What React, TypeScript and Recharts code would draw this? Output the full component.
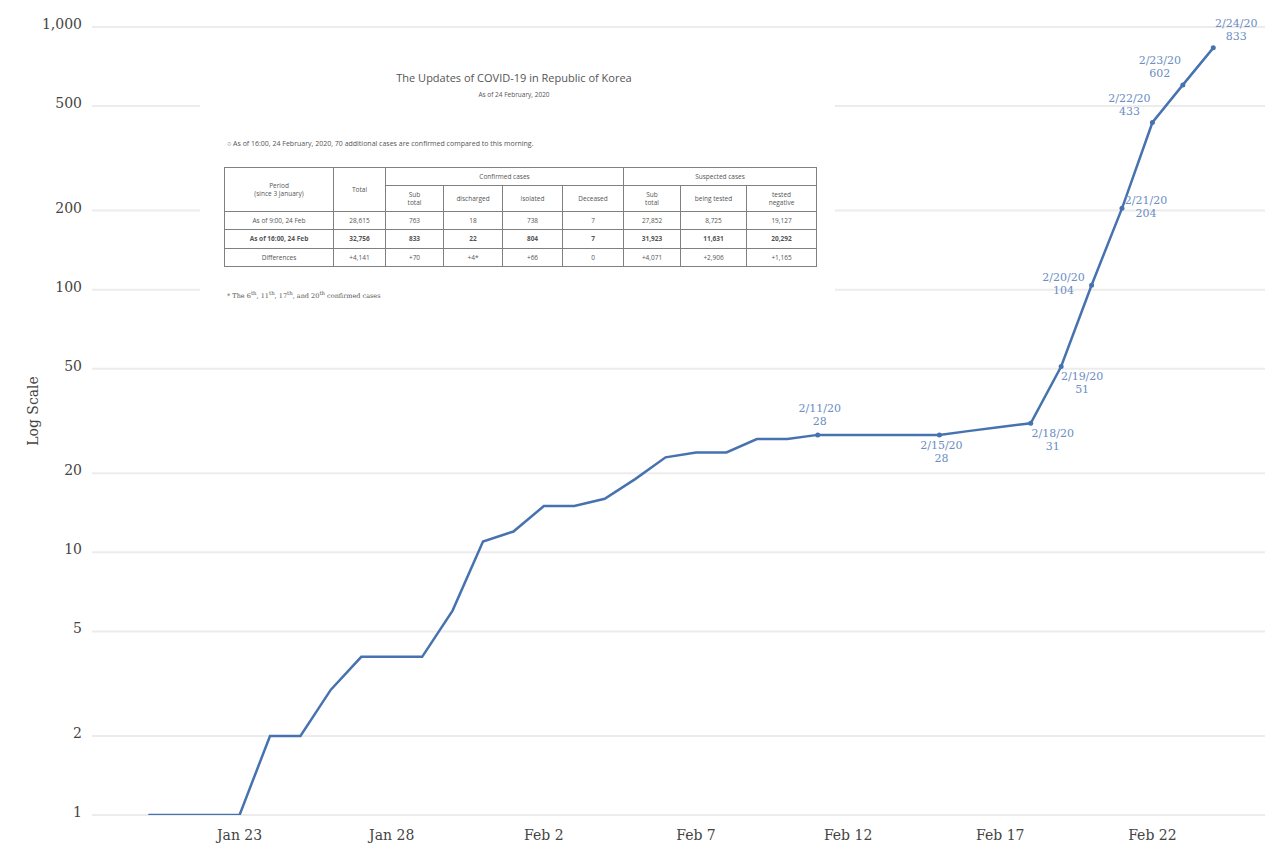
import React from 'react';
import { ComposedChart, Line, XAxis, YAxis, CartesianGrid, LabelList } from 'recharts';

// cumulative confirmed cases, Republic of Korea, one value per day
const days = [
  '1/20/20', '1/21/20', '1/22/20', '1/23/20', '1/24/20', '1/25/20', '1/26/20', '1/27/20',
  '1/28/20', '1/29/20', '1/30/20', '1/31/20', '2/1/20', '2/2/20', '2/3/20', '2/4/20',
  '2/5/20', '2/6/20', '2/7/20', '2/8/20', '2/9/20', '2/10/20', '2/11/20', '2/12/20',
  '2/13/20', '2/14/20', '2/15/20', '2/16/20', '2/17/20', '2/18/20', '2/19/20', '2/20/20',
  '2/21/20', '2/22/20', '2/23/20', '2/24/20',
];
const cases = [
  1, 1, 1, 1, 2, 2, 3, 4,
  4, 4, 6, 11, 12, 15, 15, 16,
  19, 23, 24, 24, 27, 27, 28, 28,
  28, 28, 28, 29, 30, 31, 51, 104,
  204, 433, 602, 833,
];

const xTickDays = ['1/23/20', '1/28/20', '2/2/20', '2/7/20', '2/12/20', '2/17/20', '2/22/20'];
const xTickLabels = ['Jan 23', 'Jan 28', 'Feb 2', 'Feb 7', 'Feb 12', 'Feb 17', 'Feb 22'];
const yTicks = [1, 2, 5, 10, 20, 50, 100, 200, 500, 1000];

const annotatedDays = ['2/11/20', '2/15/20', '2/18/20', '2/19/20', '2/20/20', '2/21/20', '2/22/20', '2/23/20', '2/24/20'];

// embedded report table
const tableTitle = 'The Updates of COVID-19 in Republic of Korea';
const tableSubtitle = 'As of 24 February, 2020';
const tableNote = '○ As of 16:00, 24 February, 2020, 70 additional cases are confirmed compared to this morning.';
const tableRows = [
  ['As of 9:00, 24 Feb', '28,615', '763', '18', '738', '7', '27,852', '8,725', '19,127'],
  ['As of 16:00, 24 Feb', '32,756', '833', '22', '804', '7', '31,923', '11,631', '20,292'],
  ['Differences', '+4,141', '+70', '+4*', '+66', '0', '+4,071', '+2,906', '+1,165'],
];

const data = days.map((d, i) => ({ idx: i, day: d, cases: cases[i] }));
const xTicks = xTickDays.map((d) => days.indexOf(d));

const LINE = '#4673b0';
const LABEL = '#6a8dc2';
const SERIF = '"DejaVu Serif", "Liberation Serif", serif';
const SANS = '"Open Sans", "Noto Sans", sans-serif';

// label placement per annotated day: [dx, dy of first line]
const placement: Record<string, [number, number]> = {
  '2/11/20': [2, -26],
  '2/15/20': [2, 11],
  '2/18/20': [22, 11],
  '2/19/20': [21, 11],
  '2/20/20': [-28, -7],
  '2/21/20': [24, -7],
  '2/22/20': [-23, -23],
  '2/23/20': [-23, -24],
  '2/24/20': [23, -24],
};

const renderDot = (props: any) => {
  const { cx, cy, index } = props;
  if (!annotatedDays.includes(days[index])) return <g key={`d-${index}`} />;
  return <circle key={`d-${index}`} cx={cx} cy={cy} r={2.5} fill={LINE} />;
};

const renderLabel = (props: any) => {
  const { x, y, index } = props;
  const day = days[index];
  if (!annotatedDays.includes(day)) return null;
  const [dx, dy] = placement[day];
  return (
    <g key={`l-${index}`}>
      <text x={x + dx} y={y + dy} textAnchor="middle" dominantBaseline="middle" fontSize={11} fontFamily={SERIF} fill={LABEL}>
        {day}
      </text>
      <text x={x + dx} y={y + dy + 13} textAnchor="middle" dominantBaseline="middle" fontSize={11} fontFamily={SERIF} fill={LABEL}>
        {cases[index]}
      </text>
    </g>
  );
};

const cell: React.CSSProperties = {
  border: '1px solid #808080',
  textAlign: 'center',
  padding: 0,
  lineHeight: '8px',
};

function ReportTable() {
  const colW = [109, 52, 58, 59, 60, 61, 57, 66, 70];
  return (
    <div
      style={{
        position: 'absolute', left: 192, top: 42, width: 635, height: 265,
        background: '#ffffff', fontFamily: SANS, color: '#555',
      }}
    >
      <div style={{ position: 'absolute', left: 0, width: 628, top: 20, textAlign: 'center', fontSize: 11 }}>{tableTitle}</div>
      <div style={{ position: 'absolute', left: 0, width: 628, top: 40, textAlign: 'center', fontSize: 6.5 }}>{tableSubtitle}</div>
      <div style={{ position: 'absolute', left: 27, top: 89, fontSize: 7 }}>{tableNote}</div>
      <table
        style={{
          position: 'absolute', left: 24, top: 117, width: 592, borderCollapse: 'collapse',
          tableLayout: 'fixed', fontSize: 6.5, border: '1.5px solid #707070',
        }}
      >
        <colgroup>
          {colW.map((w, i) => <col key={i} style={{ width: w }} />)}
        </colgroup>
        <tbody>
          <tr style={{ height: 18 }}>
            <td style={cell} rowSpan={2}>Period<br />(since 3 January)</td>
            <td style={cell} rowSpan={2}>Total</td>
            <td style={cell} colSpan={4}>Confirmed cases</td>
            <td style={cell} colSpan={3}>Suspected cases</td>
          </tr>
          <tr style={{ height: 26 }}>
            <td style={cell}>Sub<br />total</td>
            <td style={cell}>discharged</td>
            <td style={cell}>isolated</td>
            <td style={cell}>Deceased</td>
            <td style={cell}>Sub<br />total</td>
            <td style={cell}>being tested</td>
            <td style={cell}>tested<br />negative</td>
          </tr>
          {tableRows.map((row, r) => (
            <tr key={r} style={{ height: r === 1 ? 19 : 18, fontWeight: r === 1 ? 700 : 400 }}>
              {row.map((v, c) => <td key={c} style={cell}>{v}</td>)}
            </tr>
          ))}
        </tbody>
      </table>
      <div style={{ position: 'absolute', left: 27, top: 240, fontSize: 6.5, fontFamily: SERIF }}>
        * The 6<sup>th</sup>, 11<sup>th</sup>, 17<sup>th</sup>, and 20<sup>th</sup> confirmed cases
      </div>
    </div>
  );
}

export default function App() {
  return (
    <div style={{ position: 'relative', width: 1264, height: 842, background: '#ffffff' }}>
      <ComposedChart width={1264} height={842} data={data} margin={{ top: 19, right: 7, bottom: 5, left: 0 }}>
        <CartesianGrid vertical={false} stroke="#ececec" strokeWidth={2} />
        <XAxis
          dataKey="idx"
          type="number"
          domain={[-1.85, 36.7]}
          ticks={xTicks}
          tickFormatter={(v: number) => xTickLabels[xTicks.indexOf(v)] ?? ''}
          axisLine={false}
          tickLine={false}
          tickMargin={9}
          height={30}
          tick={{ fontSize: 14, fontFamily: SERIF, fill: '#444' }}
          allowDataOverflow
        />
        <YAxis
          scale="log"
          domain={[1, 1000]}
          ticks={yTicks}
          tickFormatter={(v: number) => v.toLocaleString('en-US')}
          axisLine={false}
          tickLine={false}
          tickMargin={4}
          width={84}
          tick={{ fontSize: 14, fontFamily: SERIF, fill: '#444', dy: -3 }}
          allowDataOverflow
          label={{
            value: 'Log Scale', angle: -90, position: 'insideLeft', offset: 25, dy: -10,
            style: { fontSize: 14, fontFamily: SERIF, fill: '#444', textAnchor: 'middle' },
          }}
        />
        <Line
          type="linear"
          dataKey="cases"
          stroke={LINE}
          strokeWidth={2.5}
          dot={renderDot}
          activeDot={false}
          isAnimationActive={false}
        >
          <LabelList dataKey="cases" content={renderLabel} />
        </Line>
      </ComposedChart>
      <ReportTable />
    </div>
  );
}
